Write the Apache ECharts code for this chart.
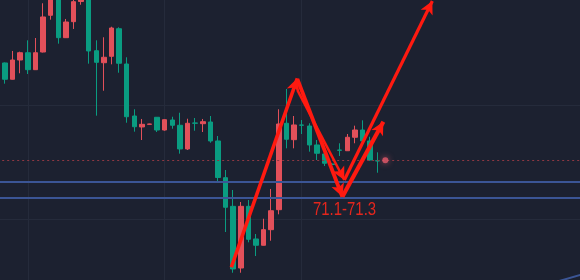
<!DOCTYPE html>
<html>
<head>
<meta charset="utf-8">
<script src="https://cdn.jsdelivr.net/npm/echarts@6/dist/echarts.min.js"></script>
<style>
html,body{margin:0;padding:0;background:#1c2130;}
#chart{width:580px;height:280px;}
</style>
</head>
<body>
<div id="chart"></div>
<script>
// ---- data (price units) ----
const categories = ["0","1","2","3","4","5","6","7","8","9","10","11","12","13","14","15","16","17","18","19","20","21","22","23","24","25","26","27","28","29","30","31","32","33","34","35","36","37","38","39","40","41","42","43","44","45","46","47","48","49","50","51","52","53","54","55","56","57","58","59","60","61","62","63","64","65","66","67","68","69","70","71","72","73","74","75","76","77","78","79","80"];
const leadEmpty = 3;
const openV  = [72.788,72.584,72.825,72.916,72.704,72.925,73.384,73.613,73.104,73.304,73.556,73.6,72.941,72.791,72.871,73.216,72.775,72.125,71.988,72.021,72.109,71.95,72.075,72.009,71.713,72.038,72.029,72.05,71.813,71.354,70.996,70.225,70.996,70.588,70.509,70.704,70.954,72.034,71.829,72.013,72.0,71.763,71.65,71.525,71.7,71.691,71.859,71.95,71.813,71.566];
const closeV = [72.584,72.825,72.916,72.704,72.916,73.363,73.6,73.104,73.3,73.554,73.6,72.938,72.796,72.859,73.225,72.784,72.116,71.991,72.021,72.025,71.95,72.079,72.009,71.713,72.034,72.034,72.054,71.813,71.356,70.984,70.213,70.996,70.584,70.509,70.704,70.941,72.025,71.834,72.013,72.009,71.763,71.659,71.534,71.519,71.696,71.859,71.95,71.813,71.575,71.563];
const lowV   = [72.529,72.581,72.659,72.65,72.7,72.919,73.329,73.029,73.1,73.213,73.516,72.779,72.129,72.441,72.771,72.666,72.041,71.929,71.825,72.019,71.925,71.941,71.966,71.654,71.7,71.941,71.925,71.791,71.3,70.675,70.166,70.166,70.546,70.375,70.506,70.566,70.896,71.721,71.721,71.9,71.679,71.575,71.5,71.506,71.625,71.691,71.784,71.784,71.566,71.416];
const highV  = [72.794,72.938,72.929,73.071,73.1,73.534,73.65,73.675,73.338,73.613,73.65,73.638,73.071,73.109,73.241,73.234,72.859,72.209,72.088,72.028,72.109,72.084,72.116,72.166,72.091,72.1,72.088,72.125,71.875,71.45,71.2,71.05,71.075,70.65,70.841,71.213,72.209,72.463,72.125,72.075,72.034,71.825,71.675,71.538,71.784,71.9,72.004,72.071,71.866,71.671];
const lastPrice = 71.571;
const lastIndex = 53;
const zoneLevels = [71.3, 71.1];
const zoneLabel = "71.1-71.3";
// annotation arrows: [index, price]
const arrowStart = [[32.75,70.234],[41.43,72.588],[41.43,72.45],[47.61,71.325],[47.35,71.116]];
const arrowEnd   = [[41.43,72.596],[47.35,71.116],[47.61,71.325],[59.18,73.5625],[52.74,72.054]];
const trendStart = [75.31,70.0475];
const trendEnd   = [79.26,70.155];

// ---- build ----
const candleData = [];
for (let i = 0; i < leadEmpty; i++) candleData.push('-');
for (let i = 0; i < openV.length; i++) candleData.push([openV[i], closeV[i], lowV[i], highV[i]]);

const arrowWidths = [3.6, 3.8, 2.6, 3.2, 4.2];
const red = '#ff1a10';
const arrowMarks = arrowStart.map((s, i) => ([
  { coord: s, symbol: 'none', lineStyle: { width: arrowWidths[i], color: red, type: 'solid', opacity: 1 } },
  { coord: arrowEnd[i], symbol: 'arrow', symbolSize: [10, 13] }
]));
arrowMarks.push([
  { coord: trendStart, symbol: 'none', lineStyle: { width: 2, color: '#3b5595', type: 'solid', opacity: 1 } },
  { coord: trendEnd, symbol: 'none' }
]);

const chart = echarts.init(document.getElementById('chart'), null, { renderer: 'canvas' });
chart.setOption({
  animation: false,
  backgroundColor: '#1c2130',
  grid: { left: -17.8, top: -9, width: 608.5, height: 342, containLabel: false, outerBoundsMode: 'none' },
  xAxis: [
    {
      type: 'category', data: categories, boundaryGap: false,
      axisLine: { show: false }, axisTick: { show: false }, axisLabel: { show: false },
      splitLine: { show: true, interval: (idx) => idx === 6 || idx === 24 || idx === 42,
                   lineStyle: { color: '#252b3b', width: 1 } }
    },
    { type: 'value', min: 0, max: 80, show: false }
  ],
  yAxis: [
    { type: 'value', min: 69.4125, max: 73.6875, show: false, scale: true },
    { type: 'value', min: 0, max: 3, interval: 1, position: 'right',
      axisLine: { show: false }, axisTick: { show: false }, axisLabel: { show: false },
      splitLine: { show: true, lineStyle: { color: '#252b3b', width: 1 } } }
  ],
  series: [
    {
      type: 'candlestick', xAxisIndex: 0, yAxisIndex: 0, data: candleData, barWidth: 5,
      itemStyle: { color: '#e2505a', color0: '#0a9c81', borderColor: '#e2505a', borderColor0: '#0a9c81', borderWidth: 1 },
      markLine: {
        silent: true, symbol: 'none', label: { show: false }, animation: false,
        data: [
          { yAxis: zoneLevels[0], lineStyle: { color: '#3b5595', width: 2, type: 'solid' } },
          { yAxis: zoneLevels[1], lineStyle: { color: '#3b5595', width: 2, type: 'solid' } },
          { yAxis: lastPrice, lineStyle: { color: '#8e3842', width: 1, type: [2, 3] } }
        ]
      }
    },
    {
      type: 'scatter', xAxisIndex: 1, yAxisIndex: 0, data: [[lastIndex, lastPrice]],
      symbolSize: 6, silent: true, z: 5,
      itemStyle: { color: '#e4596a', shadowBlur: 6, shadowColor: 'rgba(228,89,106,0.9)' },
      markLine: {
        silent: true, animation: false, label: { show: false },
        lineStyle: { width: 3.5, color: red, type: 'solid', opacity: 1 },
        emphasis: { disabled: true },
        data: arrowMarks
      }
    }
  ],
  graphic: [
    { type: 'text', x: 313, y: 201, scaleX: 0.83, silent: true,
      style: { text: zoneLabel, fill: '#e3261d', font: "18px 'Liberation Sans', sans-serif" } }
  ]
});
</script>
</body>
</html>
